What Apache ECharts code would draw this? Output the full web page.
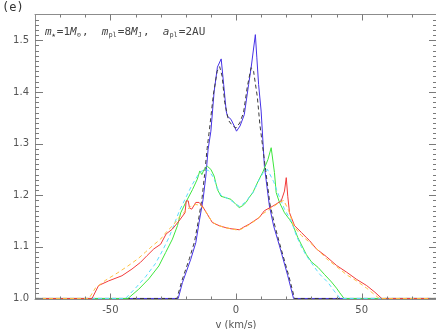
<!DOCTYPE html>
<html>
<head>
<meta charset="utf-8">
<script src="https://cdn.jsdelivr.net/npm/echarts@6/dist/echarts.min.js"></script>
<style>
  html, body { margin: 0; padding: 0; background: #fff; }
  #chart { width: 436px; height: 329px; }
</style>
</head>
<body>
<div id="chart"></div>
<script>
// tick values
const xMajor = [-50, 0, 50]
const xMinor = [-70, -60, -40, -30, -20, -10, 10, 20, 30, 40, 60, 70]
const yMajorLabels = [1.0, 1.1, 1.2, 1.3, 1.4, 1.5]

// narrow profile (solid blue + dashed black)
const blueLine = [[-80, 1.0], [-23, 1.0], [-21.3, 1.031], [-18, 1.076], [-16, 1.108], [-14.7, 1.147], [-13.1, 1.192],
  [-12, 1.237], [-11.1, 1.289], [-10, 1.324], [-8.7, 1.401], [-7.4, 1.448], [-5.9, 1.464], [-4.9, 1.414],
  [-3.9, 1.363], [-3.4, 1.353], [-2, 1.347], [-0.7, 1.334], [0.2, 1.324], [1.6, 1.334], [3.3, 1.356],
  [5, 1.414], [6, 1.446], [7.7, 1.511], [8.3, 1.466], [9, 1.414], [10, 1.363], [11.3, 1.256], [13.3, 1.179],
  [15, 1.14], [17.3, 1.102], [20.6, 1.044], [22.9, 1.0], [80, 1.0]]
const blackDash = [[-80, 1.0], [-23.5, 1.0], [-21.5, 1.035], [-18.5, 1.078], [-16.5, 1.11], [-15, 1.15], [-13.5, 1.195],
  [-12.5, 1.24], [-11.5, 1.29], [-10.5, 1.33], [-9, 1.395], [-7.5, 1.44], [-6.5, 1.449], [-5.5, 1.43],
  [-4.5, 1.38], [-3, 1.345], [-1.5, 1.335], [0, 1.33], [1.5, 1.34], [3, 1.36], [4.5, 1.41], [6, 1.447],
  [7, 1.44], [8.5, 1.39], [9.5, 1.337], [11.5, 1.26], [13.5, 1.183], [15.5, 1.14], [17.5, 1.104],
  [21, 1.044], [23.3, 1.0], [80, 1.0]]

// middle profile (solid green + dashed cyan)
const greenLine = [[-80, 1.0], [-43, 1.0], [-38.7, 1.018], [-34.7, 1.038], [-30.7, 1.063], [-28, 1.089], [-25.3, 1.115],
  [-23.3, 1.141], [-22, 1.166], [-20, 1.186], [-17.3, 1.211], [-15.4, 1.231], [-14.4, 1.247], [-13.6, 1.24],
  [-12.7, 1.25], [-11.4, 1.256], [-10, 1.25], [-8.7, 1.237], [-7.4, 1.211], [-6, 1.198], [-4, 1.195],
  [-2, 1.192], [0, 1.182], [1.3, 1.176], [2.7, 1.18], [4, 1.186], [5.3, 1.196], [6.7, 1.205], [8.7, 1.226],
  [10.7, 1.245], [12.7, 1.269], [14, 1.292], [14.7, 1.295], [15.3, 1.244], [16, 1.205], [17.3, 1.186],
  [19.3, 1.166], [21.3, 1.153], [22.5, 1.144], [24.6, 1.118], [28, 1.085], [30, 1.071], [32.7, 1.06],
  [35.3, 1.046], [38, 1.032], [40, 1.02], [41.3, 1.011], [43, 1.0], [80, 1.0]]
const cyanDash = [[-80, 1.0], [-44, 1.0], [-40, 1.02], [-36, 1.042], [-32, 1.068], [-29, 1.095], [-26.5, 1.12],
  [-24.5, 1.145], [-22.5, 1.17], [-20, 1.195], [-17.5, 1.22], [-15, 1.24], [-13, 1.25], [-11, 1.248],
  [-9, 1.235], [-7.5, 1.215], [-6, 1.2], [-3, 1.193], [0, 1.183], [1.5, 1.178], [4, 1.188], [7, 1.207],
  [9, 1.228], [11, 1.245], [12.5, 1.25], [15, 1.226], [17, 1.2], [19.3, 1.173], [22, 1.15], [24, 1.122],
  [26, 1.1], [28, 1.083], [31, 1.062], [33.3, 1.047], [36.6, 1.031], [39, 1.015], [41.5, 1.0], [80, 1.0]]

// wide profile (solid red + dashed orange)
const redLine = [[-80, 1.0], [-57.3, 1.0], [-54.7, 1.025], [-50.7, 1.034], [-45.4, 1.044], [-41.4, 1.057], [-38, 1.07],
  [-35.4, 1.083], [-32.7, 1.096], [-30, 1.105], [-27.8, 1.125], [-25.4, 1.134], [-22.7, 1.15], [-20.3, 1.166],
  [-19.8, 1.189], [-19, 1.189], [-18.5, 1.175], [-17.6, 1.173], [-16, 1.186], [-14.7, 1.186], [-13.4, 1.179],
  [-11.4, 1.163], [-9.4, 1.147], [-6.7, 1.141], [-4, 1.137], [-2, 1.135], [0, 1.134], [1.3, 1.133],
  [3, 1.138], [5.3, 1.144], [9.3, 1.157], [11.3, 1.17], [14.7, 1.179], [18, 1.189], [19.3, 1.208],
  [20, 1.234], [20.6, 1.198], [21.3, 1.166], [23.3, 1.141], [26, 1.128], [28, 1.118], [29.3, 1.112],
  [32, 1.096], [36, 1.081], [40, 1.064], [44, 1.051], [48, 1.037], [52, 1.025], [55.3, 1.012], [58, 1.0],
  [80, 1.0]]
const orangeDash = [[-80, 1.0], [-58.5, 1.0], [-56, 1.02], [-52, 1.035], [-47, 1.05], [-43, 1.063], [-39, 1.077],
  [-36, 1.09], [-33, 1.103], [-30, 1.115], [-27.5, 1.13], [-25, 1.142], [-22.5, 1.158], [-20, 1.17],
  [-18, 1.178], [-16, 1.182], [-14, 1.18], [-12, 1.168], [-10, 1.152], [-8, 1.143], [-5, 1.138], [-2, 1.135],
  [0, 1.133], [2, 1.134], [5, 1.142], [8, 1.152], [11, 1.165], [14, 1.175], [17, 1.185], [19, 1.19],
  [21, 1.17], [23, 1.14], [26, 1.122], [29.5, 1.108], [33, 1.092], [36, 1.077], [40, 1.062], [44, 1.046],
  [48, 1.034], [52, 1.02], [55, 1.008], [57, 1.0], [80, 1.0]]

const axisColor = '#8c8c8c'
const textColor = '#555'
const font = 'DejaVu Sans'
const mono = 'DejaVu Sans Mono'
const xMin = -80, xMax = 80
const yMin = 0.998, yMax = 1.55
const plotW = 402, plotH = 285

function curve(name, data, color, dashed) {
  return {
    name: name, type: 'line', data: data,
    showSymbol: false, silent: true, clip: false,
    lineStyle: { color: color, width: 1, type: dashed ? [4, 3] : 'solid' }
  }
}

const labelTexts = [
  {
    type: 'text', left: 2, top: 2,
    style: { text: '(e)', fill: '#333', fontSize: 12, fontFamily: mono }
  },
  {
    type: 'text', left: 45, top: 27,
    style: {
      text: '{i|m}{s|★}{n|=1}{i|M}{s|⊙}{n|,  }{i|m}{s|pl}{n|=8}{i|M}{s|J}{n|,  }{i|a}{s|pl}{n|=2AU}',
      rich: {
        i: { fontStyle: 'italic', fontSize: 11, fill: '#444', fontFamily: mono },
        n: { fontSize: 11, fill: '#444', fontFamily: mono },
        s: { fontSize: 7, fill: '#444', fontFamily: mono, padding: [6, 1, 0, 0] }
      }
    }
  }
]

const chart = echarts.init(document.getElementById('chart'))

chart.setOption({
  animation: false,
  grid: { left: 35, top: 14.5, width: plotW, height: plotH, containLabel: false, outerBoundsMode: 'none' },
  xAxis: [
    {
      type: 'value', position: 'bottom', min: xMin, max: xMax,
      axisLine: { show: true, onZero: false, lineStyle: { color: axisColor } },
      axisTick: { show: false },
      axisLabel: { show: true, customValues: xMajor, color: textColor, fontSize: 10, fontFamily: font, margin: 6 },
      splitLine: { show: false },
      name: 'v (km/s)', nameLocation: 'middle', nameGap: 18,
      nameTextStyle: { color: textColor, fontSize: 10, fontFamily: font }
    },
    {
      type: 'value', position: 'top', min: xMin, max: xMax,
      axisLine: { show: true, onZero: false, lineStyle: { color: axisColor } },
      axisTick: { show: false }, axisLabel: { show: false }, splitLine: { show: false }
    }
  ],
  yAxis: [
    {
      type: 'value', position: 'left', min: yMin, max: yMax,
      axisLine: { show: true, onZero: false, lineStyle: { color: axisColor } },
      axisTick: { show: false },
      axisLabel: { show: true, customValues: yMajorLabels, color: textColor, fontSize: 10, fontFamily: font,
        margin: 6, formatter: v => v.toFixed(1) },
      splitLine: { show: false },
      name: 'Normalized Flux', nameLocation: 'middle', nameGap: 23,
      nameTextStyle: { color: textColor, fontSize: 10, fontFamily: font }
    },
    {
      type: 'value', position: 'right', min: yMin, max: yMax,
      axisLine: { show: true, onZero: false, lineStyle: { color: axisColor } },
      axisTick: { show: false }, axisLabel: { show: false }, splitLine: { show: false }
    }
  ],
  graphic: labelTexts,
  series: [
    curve('narrow', blueLine, '#4632e6', false),
    curve('narrow model', blackDash, '#3a3a3a', true),
    curve('middle', greenLine, '#3ee63e', false),
    curve('middle model', cyanDash, '#5cdcff', true),
    curve('wide', redLine, '#f23a3a', false),
    curve('wide model', orangeDash, '#ffc040', true)
  ]
})

// IDL style inward ticks on all four sides, placed through the chart's own scales
const ticks = []
const toPx = p => chart.convertToPixel({ gridIndex: 0 }, p)
const corner0 = toPx([xMin, yMin])
const corner1 = toPx([xMax, yMax])
function seg(x1, y1, x2, y2) {
  ticks.push({
    type: 'line', silent: true, z: 50,
    shape: { x1: x1, y1: y1, x2: x2, y2: y2 },
    style: { stroke: '#7a7a7a', lineWidth: 1 }
  })
}
function addX(v, len) {
  const px = Math.round(toPx([v, yMin])[0]) + 0.5
  seg(px, corner0[1], px, corner0[1] - len)
  seg(px, corner1[1], px, corner1[1] + len)
}
function addY(v, len) {
  const py = Math.round(toPx([xMin, v])[1]) + 0.5
  seg(corner0[0], py, corner0[0] + len, py)
  seg(corner1[0], py, corner1[0] - len, py)
}
xMajor.forEach(v => addX(v, 6))
xMinor.forEach(v => addX(v, 3))
for (let k = 0; k <= 54; k++) addY(+(1 + k * 0.01).toFixed(2), k % 10 === 0 ? 8 : 4)

chart.setOption({ graphic: labelTexts.concat(ticks) })
</script>
</body>
</html>
